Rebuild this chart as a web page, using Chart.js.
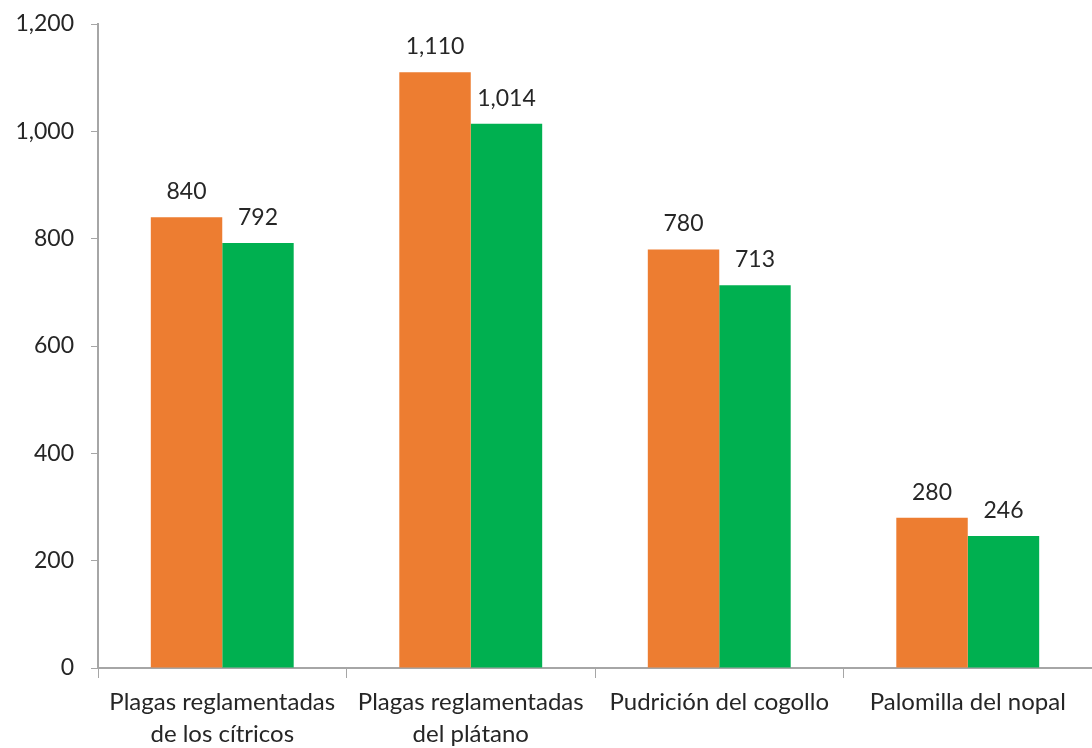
<!DOCTYPE html>
<html>
<head>
<meta charset="utf-8">
<script src="https://cdn.jsdelivr.net/npm/chart.js@4/dist/chart.umd.min.js"></script>
<style>
  html, body { margin: 0; padding: 0; background: #fff; }
  #wrap { width: 1092px; height: 748px; position: relative; }
</style>
</head>
<body>
<div id="wrap"><canvas id="chart"></canvas></div>
<script>
const categories = [
  ['Plagas reglamentadas', 'de los cítricos'],
  ['Plagas reglamentadas', 'del plátano'],
  'Pudrición del cogollo',
  'Palomilla del nopal'
];
const seriesA = [840, 1110, 780, 280];
const seriesB = [792, 1014, 713, 246];
const yTicks = [0, 200, 400, 600, 800, 1000, 1200];

const fontFamily = 'Lato, "Open Sans", sans-serif';
const textColor = '#262626';
const axisColor = '#a6a6a6';

const fmt = v => v.toLocaleString('en-US');

// draw the value above each bar
const valueLabels = {
  id: 'valueLabels',
  afterDatasetsDraw(chart) {
    const ctx = chart.ctx;
    ctx.save();
    ctx.font = '23px ' + fontFamily;
    ctx.fillStyle = textColor;
    ctx.textAlign = 'center';
    ctx.textBaseline = 'alphabetic';
    chart.data.datasets.forEach((ds, i) => {
      chart.getDatasetMeta(i).data.forEach((bar, j) => {
        ctx.fillText(fmt(ds.data[j]), bar.x, bar.y - 18);
      });
    });
    ctx.restore();
  }
};

new Chart(document.getElementById('chart').getContext('2d'), {
  type: 'bar',
  data: {
    labels: categories,
    datasets: [
      { data: seriesA, backgroundColor: '#ED7D31', categoryPercentage: 0.575, barPercentage: 1 },
      { data: seriesB, backgroundColor: '#00B050', categoryPercentage: 0.575, barPercentage: 1 }
    ]
  },
  options: {
    responsive: true,
    maintainAspectRatio: false,
    animation: false,
    layout: { padding: { top: 24, right: 0, left: 0, bottom: 0 } },
    plugins: {
      legend: { display: false },
      tooltip: { enabled: false }
    },
    scales: {
      x: {
        grid: { drawOnChartArea: false, drawTicks: true, tickLength: 10, color: axisColor, offset: true },
        border: { color: axisColor, width: 2 },
        ticks: {
          color: textColor,
          font: { family: fontFamily, size: 24, lineHeight: 1.3 },
          padding: 9,
          maxRotation: 0,
          autoSkip: false
        },
        afterFit(scale) { scale.height = 80; }
      },
      y: {
        min: 0,
        max: 1200,
        afterBuildTicks(scale) { scale.ticks = yTicks.map(v => ({ value: v })); },
        grid: { drawOnChartArea: false, drawTicks: true, tickLength: 7, color: axisColor },
        border: { color: axisColor, width: 2 },
        ticks: {
          color: textColor,
          font: { family: fontFamily, size: 23 },
          padding: 17,
          callback: v => fmt(v)
        },
        afterFit(scale) {
          scale.width = 98;
          scale.paddingTop = 0;
          scale.paddingBottom = 0;
        }
      }
    }
  },
  plugins: [valueLabels]
});
</script>
</body>
</html>
